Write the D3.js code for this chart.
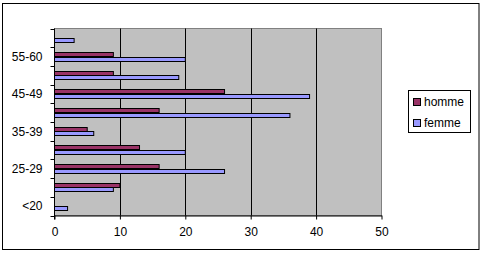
<!DOCTYPE html>
<html>
<head>
<meta charset="utf-8">
<script src="https://cdn.jsdelivr.net/npm/d3@7"></script>
<style>
  body { margin: 0; background: #fff; }
  text { font-family: "Liberation Sans", Arial, sans-serif; font-size: 12px; fill: #000; }
</style>
</head>
<body>
<div id="vis"></div>
<script>
// categories from bottom to top
var categories = ["<20", "20-24", "25-29", "30-34", "35-39", "40-44", "45-49", "50-54", "55-60", "60+"];
var labelled = ["<20", "25-29", "35-39", "45-49", "55-60"];
var homme = [0, 10, 16, 13, 5, 16, 26, 9, 9, 0];
var femme = [2, 9, 26, 20, 6, 36, 39, 19, 20, 3];
var xTicks = [0, 10, 20, 30, 40, 50];
var seriesNames = ["homme", "femme"];
var colors = {homme: "#993366", femme: "#9999FF"};

var W = 482, H = 254;
var plot = {left: 54.5, top: 28.5, right: 381.5, bottom: 215.5};

var svg = d3.select("#vis").append("svg").attr("width", W).attr("height", H);

// outer chart border
svg.append("rect")
  .attr("x", 2.5).attr("y", 3.5).attr("width", 476.5).attr("height", 246)
  .attr("fill", "#fff").attr("stroke", "#000").attr("stroke-width", 1);

var x = d3.scaleLinear().domain([0, 50]).range([plot.left, plot.right]);
var y = d3.scaleBand().domain(categories).range([plot.bottom, plot.top]);
var inner = d3.scaleBand().domain(["homme", "femme"])
  .range([y.bandwidth() * 0.25, y.bandwidth() * 0.75]);

// plot area
svg.append("rect")
  .attr("x", plot.left).attr("y", plot.top)
  .attr("width", plot.right - plot.left).attr("height", plot.bottom - plot.top)
  .attr("fill", "#C0C0C0").attr("stroke", "#808080").attr("stroke-width", 1);

// gridlines
svg.append("g").selectAll("line")
  .data(xTicks.filter(d => d > 0 && d < 50))
  .join("line")
  .attr("x1", d => Math.round(x(d)) + 0.5).attr("x2", d => Math.round(x(d)) + 0.5)
  .attr("y1", plot.top).attr("y2", plot.bottom)
  .attr("stroke", "#000");

// bars
var rows = categories.map((c, i) => ({cat: c, homme: homme[i], femme: femme[i]}));
seriesNames.forEach(s => {
  svg.append("g").selectAll("rect")
    .data(rows.filter(d => d[s] > 0))
    .join("rect")
    .attr("x", x(0))
    .attr("y", d => Math.round(y(d.cat) + inner(s)) + 0.5)
    .attr("width", d => x(d[s]) - x(0))
    .attr("height", Math.round(inner.bandwidth()) - 1)
    .attr("fill", colors[s])
    .attr("stroke", "#000").attr("stroke-width", 1);
});

// x axis
var xAxis = svg.append("g")
  .attr("transform", "translate(0," + plot.bottom + ")")
  .call(d3.axisBottom(x).tickValues(xTicks).tickSize(4).tickPadding(8).tickSizeOuter(0));
xAxis.select(".domain").attr("stroke", "#000");
xAxis.selectAll("text").style("font-size", "12px").style("font-family", "'Liberation Sans', Arial, sans-serif");

// y axis: ticks at category boundaries, labels on every other category
var yAxis = svg.append("g").attr("transform", "translate(" + plot.left + ",0)");
yAxis.append("line")
  .attr("x1", 0).attr("x2", 0).attr("y1", plot.top).attr("y2", plot.bottom + 4)
  .attr("stroke", "#000");
var bounds = categories.map(c => y(c)).concat([plot.bottom]);
yAxis.selectAll("line.tick")
  .data(bounds)
  .join("line").attr("class", "tick")
  .attr("x1", -4).attr("x2", 0)
  .attr("y1", d => Math.round(d) + 0.5).attr("y2", d => Math.round(d) + 0.5)
  .attr("stroke", "#000");
yAxis.selectAll("text")
  .data(labelled)
  .join("text")
  .attr("x", -12)
  .attr("y", d => y(d) + y.bandwidth() / 2)
  .attr("dy", "0.35em")
  .attr("text-anchor", "end")
  .text(d => d);

// legend
var legend = svg.append("g");
legend.append("rect")
  .attr("x", 408.5).attr("y", 90.5).attr("width", 62).attr("height", 42)
  .attr("fill", "#fff").attr("stroke", "#000");
seriesNames.forEach((s, i) => {
  legend.append("rect")
    .attr("x", 413.5).attr("y", 98.5 + i * 21).attr("width", 7).attr("height", 7)
    .attr("fill", colors[s]).attr("stroke", "#000");
  legend.append("text")
    .attr("x", 424).attr("y", 102 + i * 21).attr("dy", "0.35em")
    .text(s);
});
</script>
</body>
</html>
